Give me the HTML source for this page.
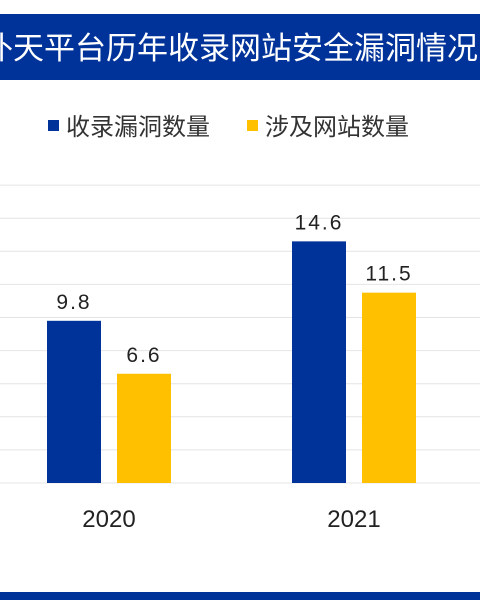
<!DOCTYPE html>
<html><head><meta charset="utf-8"><style>
body{margin:0;width:480px;height:600px;background:#fff;overflow:hidden;font-family:"Liberation Sans","Noto Sans CJK SC",sans-serif}
</style></head><body>
<svg width="480" height="600">
<rect x="0" y="14" width="480" height="66" fill="#003399"/>
<text x="230" y="59" text-anchor="middle" font-size="31" fill="#fff" font-family="Liberation Sans,Noto Sans CJK SC,sans-serif">补天平台历年收录网站安全漏洞情况</text>
<g>
<rect x="48" y="120" width="11" height="11" fill="#003399"/>
<text x="66" y="135" font-size="24" fill="#333">收录漏洞数量</text>
<rect x="247" y="120" width="11" height="11" fill="#FFC000"/>
<text x="265" y="135" font-size="24" fill="#333">涉及网站数量</text>
</g>
<g id="grid"></g><g id="bars"></g>
<rect x="0" y="592" width="480" height="8" fill="#003399"/>
</svg>
<script>
const categories=["2020","2021"];
const vulns=[9.8,14.6];
const sites=[6.6,11.5];
const yTicks=[0,2,4,6,8,10,12,14,16,18];
const base=483,ppu=16.55;
const y=v=>base-v*ppu;
const ns="http://www.w3.org/2000/svg";
const g=document.getElementById('grid'),b=document.getElementById('bars');
function mk(tag,attrs,parent){const e=document.createElementNS(ns,tag);for(const k in attrs)e.setAttribute(k,attrs[k]);parent.appendChild(e);return e;}
yTicks.forEach(t=>{
 const l=mk('line',{x1:0,x2:480,y1:y(t),y2:y(t),stroke:'#e4e4e4','stroke-width':1},g);
 
 
});
categories.forEach((c,i)=>{
 const cx=109+i*245;
 [[vulns[i],'#003399',-62,'bar-vulns'],[sites[i],'#FFC000',8,'bar-sites']].forEach(([v,col,off,nm])=>{
  const r=mk('rect',{x:cx+off,y:y(v),width:54,height:base-y(v),fill:col},b);
  
  
  const t=mk('text',{x:cx+off+27,y:y(v)-12,'text-anchor':'middle','font-size':21,fill:'#222','letter-spacing':'2'},b);
  t.textContent=v.toFixed(1);
  
  
 });
 const xl=mk('text',{x:cx,y:527,'text-anchor':'middle','font-size':24,fill:'#222'},b);
 xl.textContent=c;
 
 
});
</script>
</body></html>
